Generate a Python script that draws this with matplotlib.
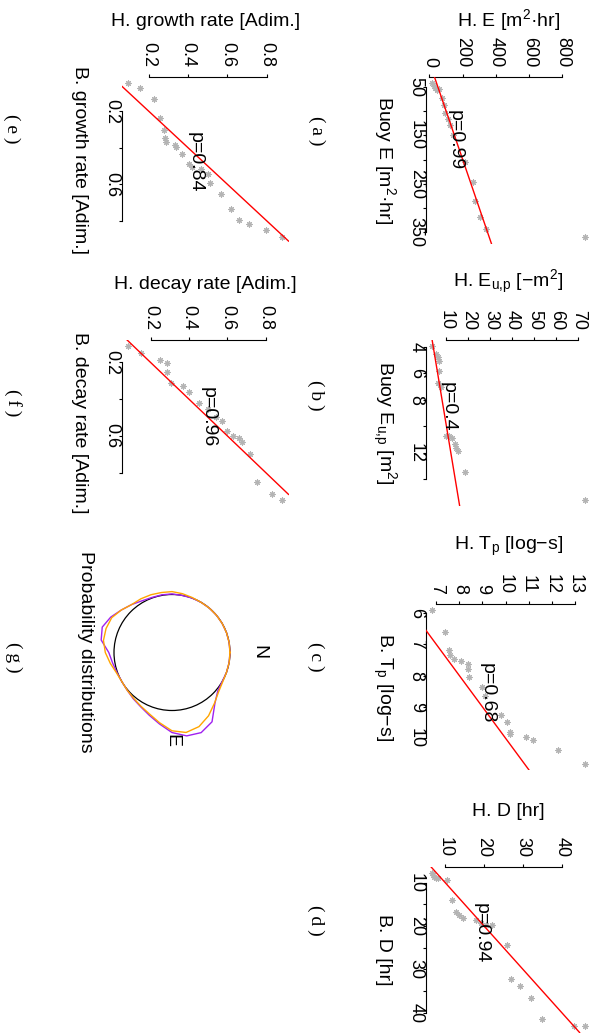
import numpy as np
import matplotlib.pyplot as plt
from matplotlib.patches import Circle

plt.rcParams['font.family'] = 'Liberation Sans'
plt.rcParams['mathtext.fontset'] = 'custom'
plt.rcParams['mathtext.rm'] = 'Liberation Sans'
plt.rcParams['mathtext.it'] = 'Liberation Sans:italic'
plt.rcParams['mathtext.bf'] = 'Liberation Sans:bold'

# hindcast (H.) vs buoy (B.) values
a_hind = [15, 25, 33, 45, 55, 74, 85, 94, 114, 122, 144, 213, 263, 273, 302, 342, 938]
a_buoy = [43, 49, 53.5, 57, 55, 74, 88, 105, 116, 129, 150, 205, 247, 285, 319, 343, 360]

b_hind = [3.4, 5.2, 6.2, 6.7, 6.4, 6.2, 7.1, 7.4, 10.0, 11.2, 12.7, 13.9, 14.5, 15.4, 18.3, 73.2]
b_buoy = [3.95, 4.55, 4.75, 5.1, 5.8, 6.7, 6.9, 7.05, 10.7, 10.7, 10.9, 11.3, 11.6, 11.9, 13.45, 15.55]

c_hind = [6.81, 7.37, 7.57, 7.6, 7.78, 8.09, 8.36, 8.37, 8.41, 8.96, 9.1, 9.79, 10.07, 10.18,
          10.21, 10.89, 11.17, 12.27, 13.46]
c_buoy = [5.89, 6.62, 7.17, 7.33, 7.46, 7.52, 7.62, 7.79, 8.05, 8.35, 8.65, 9.25, 9.47, 9.79,
          9.86, 9.95, 10.06, 10.38, 10.82]

d_hind = [6.6, 6.9, 7.2, 7.6, 8.1, 10.4, 11.7, 12.7, 13.6, 14.6, 17.9, 19.1, 20.4, 21.9, 25.8,
          27.0, 29.1, 32.0, 34.9, 43.1, 46.0]
d_buoy = [7.7, 8.3, 8.7, 9.0, 8.9, 9.5, 13.9, 16.7, 17.5, 18.1, 18.7, 19.2, 19.8, 19.8, 24.4,
          32.1, 33.7, 36.5, 41.4, 43.1, 43.1]

e_hind = [0.093, 0.152, 0.224, 0.258, 0.275, 0.284, 0.289, 0.331, 0.340, 0.371, 0.405, 0.422,
          0.464, 0.499, 0.510, 0.567, 0.616, 0.660, 0.711, 0.795, 0.880]
e_buoy = [0.045, 0.072, 0.131, 0.236, 0.304, 0.345, 0.367, 0.387, 0.394, 0.436, 0.487, 0.505,
          0.514, 0.545, 0.594, 0.654, 0.733, 0.795, 0.818, 0.851, 0.891]

f_hind = [0.082, 0.152, 0.247, 0.287, 0.287, 0.307, 0.368, 0.399, 0.451, 0.497, 0.541, 0.570,
          0.598, 0.627, 0.662, 0.676, 0.719, 0.753, 0.834, 0.886]
f_buoy = [0.111, 0.151, 0.184, 0.205, 0.253, 0.310, 0.329, 0.361, 0.419, 0.455, 0.495, 0.519,
          0.573, 0.601, 0.609, 0.633, 0.696, 0.851, 0.917, 0.948]

corr = ['p=0.99', 'p=0.4', 'p=0.68', 'p=0.94', 'p=0.84', 'p=0.96']

h_labels = ['H. E [m$^\\mathrm{2}$·hr]', 'H. E$_\\mathrm{u{,}p}$ [−m$^\\mathrm{2}$]',
            'H. T$_\\mathrm{p}$ [log−s]', 'H. D [hr]',
            'H. growth rate [Adim.]', 'H. decay rate [Adim.]']
b_labels = ['Buoy E [m$^\\mathrm{2}$·hr]', 'Buoy E$_\\mathrm{u{,}p}$ [m$^\\mathrm{2}$]',
            'B. T$_\\mathrm{p}$ [log−s]', 'B. D [hr]',
            'B. growth rate [Adim.]', 'B. decay rate [Adim.]']

h_ticks = [[0, 200, 400, 600, 800], [10, 20, 30, 40, 50, 60, 70], [7, 8, 9, 10, 11, 12, 13],
           [10, 20, 30, 40], [0.2, 0.4, 0.6, 0.8], [0.2, 0.4, 0.6, 0.8]]
h_ticklabels = [['0', '200', '400', '600', '800'], ['10', '20', '30', '40', '50', '60', '70'],
                ['7', '8', '9', '10', '11', '12', '13'], ['10', '20', '30', '40'],
                ['0.2', '0.4', '0.6', '0.8'], ['0.2', '0.4', '0.6', '0.8']]
b_ticks = [[50, 100, 150, 200, 250, 300, 350], [4, 6, 8, 10, 12, 14], [6, 7, 8, 9, 10],
           [10, 15, 20, 25, 30, 35, 40], [0.2, 0.4, 0.6, 0.8], [0.2, 0.4, 0.6, 0.8]]
b_ticklabels = [['50', '', '150', '', '250', '', '350'], ['4', '6', '8', '', '12', ''],
                ['6', '7', '8', '9', '10'], ['10', '', '20', '', '30', '', '40'],
                ['0.2', '', '0.6', ''], ['0.2', '', '0.6', '']]

# direction distributions (g): bearing [deg] and radius relative to unit circle
g_bearing = [0, 10, 20, 30, 40, 50, 60, 70, 80, 90, 100, 110, 120, 130, 140, 150, 160, 170,
             180, 190, 200, 210, 220, 230, 240, 250, 260, 270, 280, 290, 300, 310, 320, 330,
             340, 350]
g_dist_1 = [1.00, 1.00, 1.00, 1.00, 1.03, 1.15, 1.38, 1.47, 1.46, 1.38, 1.25, 1.15, 1.08, 1.04,
            1.01, 1.00, 1.01, 1.04, 1.09, 1.24, 1.28, 1.22, 1.14, 1.08, 1.03, 1.01, 1.01, 1.01,
            1.00, 1.00, 1.00, 1.00, 1.00, 1.00, 1.00, 1.00]
g_dist_2 = [1.00, 1.00, 1.00, 1.01, 1.05, 1.14, 1.26, 1.36, 1.40, 1.35, 1.23, 1.13, 1.07, 1.03,
            1.01, 1.00, 1.02, 1.08, 1.15, 1.20, 1.21, 1.20, 1.14, 1.08, 1.07, 1.06, 1.05, 1.05,
            1.03, 1.01, 1.00, 1.00, 1.00, 1.00, 1.00, 1.00]

hind = [a_hind, b_hind, c_hind, d_hind, e_hind, f_hind]
buoy = [a_buoy, b_buoy, c_buoy, d_buoy, e_buoy, f_buoy]

# layout in pixels of the 597x1036 image (figure is drawn turned a quarter turn)
W, H = 597, 1036
cols = [(425.8, 591.5), (425.8, 591.5), (425.8, 591.5), (425.8, 591.5), (121.8, 288.5), (121.8, 288.5)]
rows = [(77, 243.5), (340, 506), (603.5, 770), (866.5, 1032.5), (77, 243.5), (340, 506)]
ptext = [(0.176, 0.622), (0.136, 0.598), (0.368, 0.461), (0.333, 0.598), (0.439, 0.485), (0.519, 0.538)]
xlab_off = [51, 53, 53, 51, 51, 51]
letters = ['(\u2009a\u2009)', '(\u2009b\u2009)', '(\u2009c\u2009)', '(\u2009d\u2009)',
           '(\u2009e\u2009)', '(\u2009f\u2009)', '(\u2009g\u2009)']
letter_pos = [(317, 131), (316, 395), (316, 657), (316, 920), (12, 129), (13, 403), (14, 657)]


def box(l, t, r, b):
    return [l / W, 1 - b / H, (r - l) / W, (b - t) / H]


def rlim(v):
    lo, hi = min(v), max(v)
    d = 0.04 * (hi - lo)
    return lo - d, hi + d


fig = plt.figure(figsize=(W / 100, H / 100), dpi=100)

for i in range(6):
    (l, r), (t, b) = cols[i], rows[i]
    ax = fig.add_axes(box(l, t, r, b))
    ax.patch.set_visible(False)
    ax.scatter(hind[i], buoy[i], marker=(8, 2, 0), s=14, color='#b4b4b4', linewidths=0.8,
               clip_on=False, zorder=2)
    ax.axline((0, 0), slope=1, color='red', lw=1, zorder=3)
    ax.set_xlim(rlim(hind[i]))
    lo, hi = rlim(buoy[i])
    ax.set_ylim(hi, lo)

    ax.xaxis.tick_top()
    ax.xaxis.set_label_position('top')
    for s in ['right', 'bottom']:
        ax.spines[s].set_visible(False)
    ax.spines['top'].set_bounds(h_ticks[i][0], h_ticks[i][-1])
    ax.spines['left'].set_bounds(b_ticks[i][0], b_ticks[i][-1])
    ax.spines['top'].set_linewidth(0.8)
    ax.spines['left'].set_linewidth(0.8)

    ax.set_xticks(h_ticks[i])
    ax.set_xticklabels(h_ticklabels[i], rotation=-90)
    ax.set_yticks(b_ticks[i])
    ax.set_yticklabels(b_ticklabels[i], rotation=-90, va='center')
    ax.tick_params(axis='x', direction='out', length=2.4, width=0.8, pad=4.5, labelsize=13)
    ax.tick_params(axis='y', direction='out', length=2.3, width=0.8, pad=-1.5, labelsize=13)

    ax.set_xlabel(h_labels[i], fontsize=14)
    ax.xaxis.set_label_coords(0.5, 1 + xlab_off[i] / (b - t))
    ax.xaxis.label.set_va('baseline')
    ax.set_ylabel(b_labels[i], fontsize=14, rotation=-90, rotation_mode='anchor',
                  ha='center', va='baseline')
    ax.yaxis.set_label_coords(-47 / (r - l), 0.5)

    ax.text(ptext[i][0], ptext[i][1], corr[i], transform=ax.transAxes, rotation=-90,
            ha='center', va='center', fontsize=14)

# (g) direction probability distributions, N to the right, E downwards
cx, cy, rad, rmax = 172, 652.5, 58, 1.6
gax = fig.add_axes(box(cx - rad * rmax, cy - rad * rmax, cx + rad * rmax, cy + rad * rmax),
                   projection='polar')
gax.set_theta_zero_location('E')
gax.set_theta_direction(-1)
gax.set_rlim(0, rmax)
gax.axis('off')
th = np.deg2rad(g_bearing + g_bearing[:1])
gax.plot(th, g_dist_1 + g_dist_1[:1], color='#a020f0', lw=1)
gax.plot(th, g_dist_2 + g_dist_2[:1], color='#ffa500', lw=1)
gax.add_patch(Circle((0.5, 0.5), 0.5 / rmax, transform=gax.transAxes, fill=False,
                     ec='black', lw=0.9))
gax.text(0, 1.49, 'N', rotation=-90, ha='center', va='center', fontsize=14)
gax.text(np.pi / 2, 1.51, 'E', rotation=-90, ha='center', va='center', fontsize=14)
fig.text(85.5 / W, 1 - 652 / H, 'Probability distributions', rotation=-90,
         ha='center', va='center', fontsize=14)

for lab, (x, y) in zip(letters, letter_pos):
    fig.text(x / W, 1 - y / H, lab, rotation=-90, ha='center', va='center',
             family='Liberation Serif', fontsize=14)

fig.savefig('out.png', dpi=100)
